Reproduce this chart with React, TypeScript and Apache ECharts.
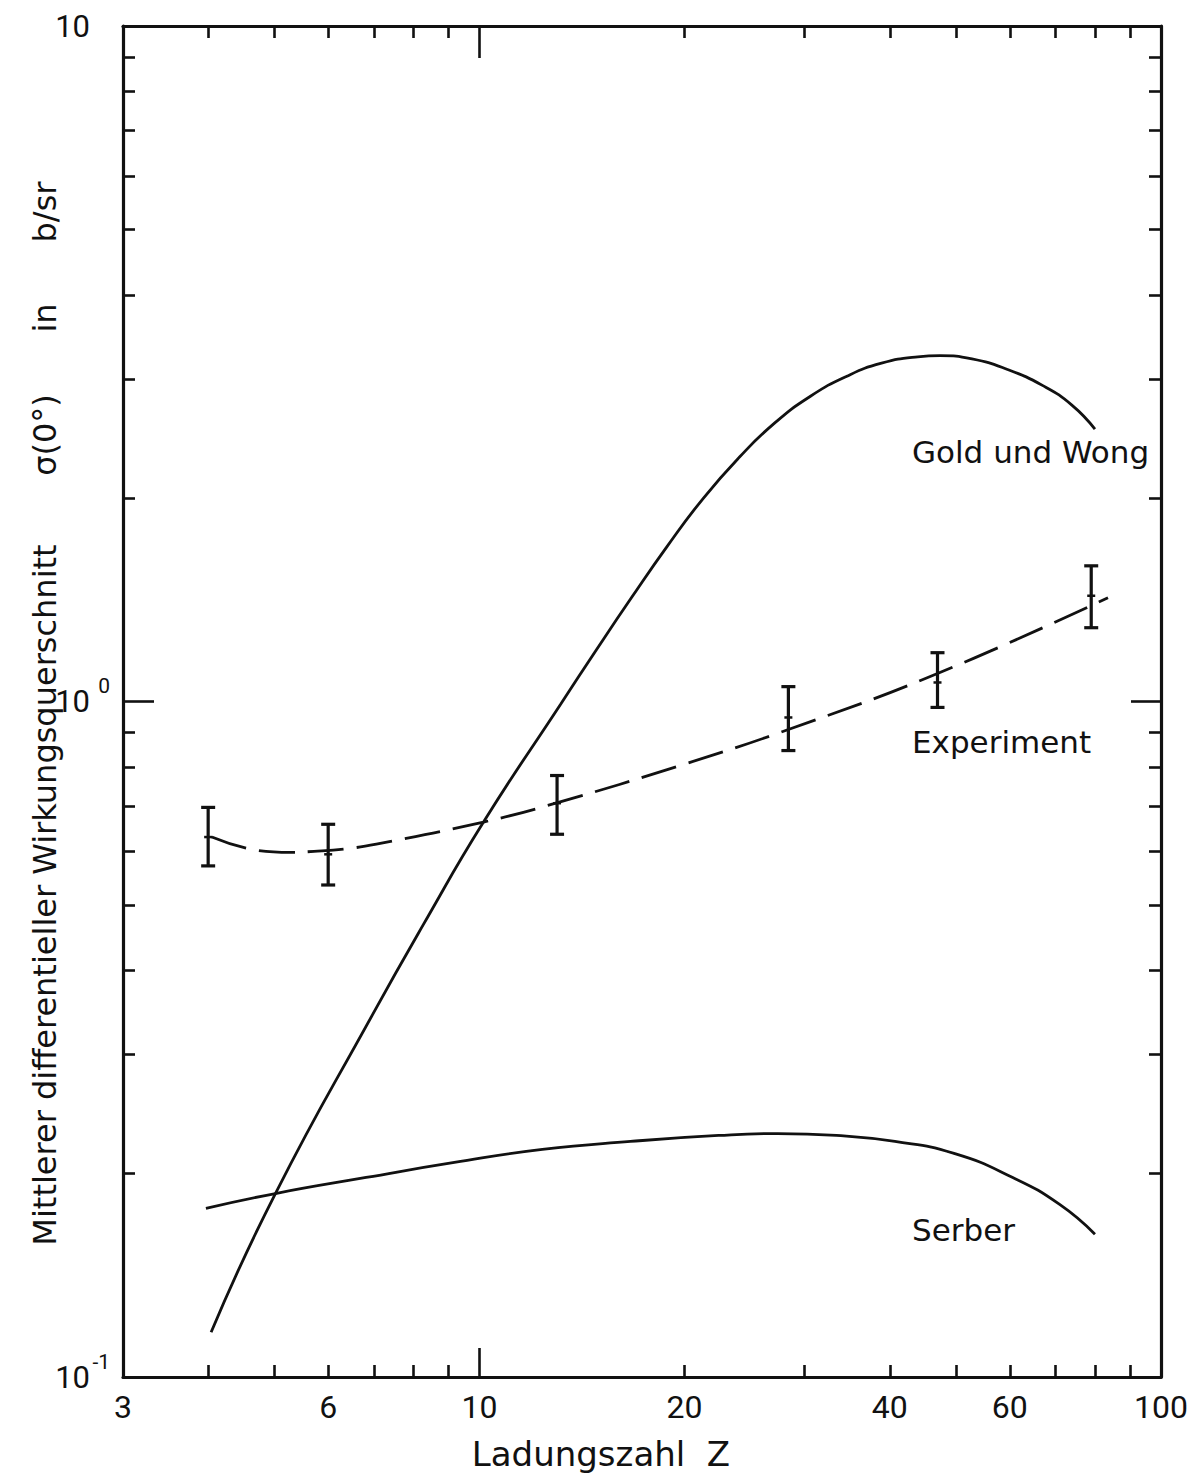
import React, { useEffect, useRef } from "react";
import * as echarts from "echarts";

// Axis ranges (log-log)
const X_MIN = 3;
const X_MAX = 100;
const Y_MIN = 0.1;
const Y_MAX = 10;

// Tick positions
const X_MINOR_TICKS = [4, 5, 6, 7, 8, 9, 20, 30, 40, 50, 60, 70, 80, 90];
const X_MAJOR_TICKS = [10];
const X_LABELS = [3, 6, 10, 20, 40, 60, 100];
const Y_MINOR_TICKS = [0.2, 0.3, 0.4, 0.5, 0.6, 0.7, 0.8, 0.9, 2, 3, 4, 5, 6, 7, 8, 9];
const Y_MAJOR_TICKS = [1];
const Y_LABELS = [0.1, 1, 10];

// Measured cross sections with error bars
const Z_EXP = [4, 6, 13, 28.4, 47, 79];
const SIGMA_EXP = [0.63, 0.594, 0.707, 0.947, 1.067, 1.434];
const SIGMA_LOW = [0.571, 0.535, 0.636, 0.846, 0.98, 1.286];
const SIGMA_HIGH = [0.697, 0.658, 0.777, 1.052, 1.181, 1.588];

// Dashed fit through the measurements
const FIT_Z = [4.05, 4.73, 5.28, 5.72, 6.35, 7.06, 10.14, 13.06, 19.7, 28.4, 47.0, 83.6];
const FIT_SIGMA = [0.63, 0.602, 0.598, 0.6, 0.605, 0.615, 0.663, 0.709, 0.804, 0.909, 1.1, 1.424];

// Theory: Gold und Wong
const GW_Z = [4.04, 5.02, 6.98, 8.27, 10.14, 13.15, 14.85, 16.71, 18.88, 21.32, 24.08, 27.1, 30.6, 34.6, 38.9, 43.96, 47.4, 52.8, 59.4, 67.1, 74.0, 80.0];
const GW_SIGMA = [0.1165, 0.1869, 0.3448, 0.467, 0.663, 0.99, 1.193, 1.424, 1.7, 2.001, 2.301, 2.583, 2.831, 3.031, 3.168, 3.238, 3.251, 3.216, 3.104, 2.935, 2.747, 2.531];

// Theory: Serber
const SERBER_Z = [3.97, 5.02, 6.82, 9.19, 12.37, 16.66, 22.43, 27.4, 33.4, 40.7, 49.7, 60.6, 71.0, 80.0];
const SERBER_SIGMA = [0.1777, 0.1869, 0.1974, 0.2078, 0.2172, 0.2232, 0.2278, 0.2293, 0.2278, 0.2232, 0.2143, 0.1974, 0.1801, 0.1627];

const INK = "#111";
const TEXT_FONT = '"DejaVu Sans", sans-serif';
const NUM_FONT = 'Roboto, "DejaVu Sans", sans-serif';

const zip = (xs: number[], ys: number[]) => xs.map((x, i) => [x, ys[i]]);

function App() {
  const ref = useRef<HTMLDivElement>(null);

  useEffect(() => {
    document.body.style.margin = "0";
    const chart = echarts.init(ref.current!, undefined, { renderer: "svg" });

    const xBase = (position: "top" | "bottom", ticks: number[], len: number, showLine: boolean, showLabel: boolean) => ({
      type: "log",
      logBase: 10,
      min: X_MIN,
      max: X_MAX,
      position,
      splitLine: { show: false },
      axisLine: { show: showLine, lineStyle: { color: INK, width: 3.2 } },
      axisTick: { show: true, inside: true, length: len, customValues: ticks, lineStyle: { color: INK, width: 2.6 } },
      axisLabel: showLabel
        ? {
            show: true,
            customValues: X_LABELS,
            margin: 14,
            color: INK,
            fontSize: 32,
            fontFamily: NUM_FONT,
            hideOverlap: false,
            showMinLabel: true,
            showMaxLabel: true,
            formatter: (v: number) => String(Math.round(v)),
          }
        : { show: false },
    });

    const yLabelFormatter = (v: number) => {
      if (Math.abs(v - 10) < 1e-6) return "{b|10}{s| }";
      if (Math.abs(v - 1) < 1e-6) return "{b|10}{s|0}";
      return "{b|10}{s|-1}";
    };

    const yBase = (position: "left" | "right", ticks: number[], len: number, showLine: boolean, showLabel: boolean) => ({
      type: "log",
      logBase: 10,
      min: Y_MIN,
      max: Y_MAX,
      position,
      splitLine: { show: false },
      axisLine: { show: showLine, lineStyle: { color: INK, width: 3.2 } },
      axisTick: { show: true, inside: true, length: len, customValues: ticks, lineStyle: { color: INK, width: 2.6 } },
      axisLabel: showLabel
        ? {
            show: true,
            customValues: Y_LABELS,
            margin: 13,
            color: INK,
            hideOverlap: false,
            showMinLabel: true,
            showMaxLabel: true,
            formatter: yLabelFormatter,
            rich: {
              b: { fontSize: 31, fontFamily: NUM_FONT, color: INK, lineHeight: 52 },
              s: { fontSize: 21, fontFamily: NUM_FONT, color: INK, lineHeight: 22, verticalAlign: "top", width: 20 },
            },
          }
        : { show: false },
    });

    const errorData = Z_EXP.map((z, i) => [z, SIGMA_EXP[i], SIGMA_LOW[i], SIGMA_HIGH[i]]);

    const labelText = (text: string, x: number, y: number) => ({
      type: "text",
      x,
      y,
      style: { text, font: `31px ${TEXT_FONT}`, fill: INK, align: "left", verticalAlign: "middle" },
    });

    const yTitle = (text: string, y: number) => ({
      type: "text",
      x: 45,
      y,
      rotation: Math.PI / 2,
      style: { text, font: `32px ${TEXT_FONT}`, fill: INK, align: "center", verticalAlign: "middle" },
    });

    chart.setOption({
      animation: false,
      backgroundColor: "#fff",
      grid: { left: 123, right: 31, top: 22, bottom: 100 },
      xAxis: [
        xBase("bottom", X_MINOR_TICKS, 12, true, true),
        xBase("top", X_MINOR_TICKS, 12, true, false),
        xBase("bottom", X_MAJOR_TICKS, 29, false, false),
        xBase("top", X_MAJOR_TICKS, 32, false, false),
      ],
      yAxis: [
        yBase("left", Y_MINOR_TICKS, 12, true, true),
        yBase("right", Y_MINOR_TICKS, 12, true, false),
        yBase("left", Y_MAJOR_TICKS, 31, false, false),
        yBase("right", Y_MAJOR_TICKS, 30, false, false),
      ],
      series: [
        {
          name: "Gold und Wong",
          type: "line",
          data: zip(GW_Z, GW_SIGMA),
          smooth: 0.5,
          symbol: "none",
          lineStyle: { color: INK, width: 2.8 },
        },
        {
          name: "Serber",
          type: "line",
          data: zip(SERBER_Z, SERBER_SIGMA),
          smooth: 0.5,
          symbol: "none",
          lineStyle: { color: INK, width: 2.8 },
        },
        {
          name: "Experiment",
          type: "line",
          data: zip(FIT_Z, FIT_SIGMA),
          smooth: 0.45,
          symbol: "none",
          lineStyle: { color: INK, width: 2.8, type: [36, 13] },
        },
        {
          name: "Messwerte",
          type: "custom",
          data: errorData,
          encode: { x: 0, y: [1, 2, 3] },
          renderItem: (params: any, api: any) => {
            const z = api.value(0);
            const c = api.coord([z, api.value(1)]);
            const lo = api.coord([z, api.value(2)]);
            const hi = api.coord([z, api.value(3)]);
            const style = { stroke: INK, lineWidth: 3.2 };
            return {
              type: "group",
              children: [
                { type: "line", shape: { x1: lo[0], y1: lo[1], x2: hi[0], y2: hi[1] }, style },
                { type: "line", shape: { x1: hi[0] - 7, y1: hi[1], x2: hi[0] + 7, y2: hi[1] }, style },
                { type: "line", shape: { x1: lo[0] - 7, y1: lo[1], x2: lo[0] + 7, y2: lo[1] }, style },
                { type: "line", shape: { x1: c[0] - 4, y1: c[1], x2: c[0] + 4, y2: c[1] }, style: { stroke: INK, lineWidth: 2.5 } },
              ],
            };
          },
        },
      ],
      graphic: [
        labelText("Gold und Wong", 912, 452),
        labelText("Experiment", 912, 742),
        labelText("Serber", 912, 1230),
        yTitle("Mittlerer differentieller Wirkungsquerschnitt", 895),
        yTitle("σ(0°)", 435),
        yTitle("in", 318),
        yTitle("b/sr", 212),
        {
          type: "text",
          x: 601,
          y: 1454,
          style: { text: "Ladungszahl  Z", font: `34px ${TEXT_FONT}`, fill: INK, align: "center", verticalAlign: "middle" },
        },
      ],
    });

    return () => chart.dispose();
  }, []);

  return <div ref={ref} style={{ width: 1192, height: 1477, background: "#fff" }} />;
}

export default App;
